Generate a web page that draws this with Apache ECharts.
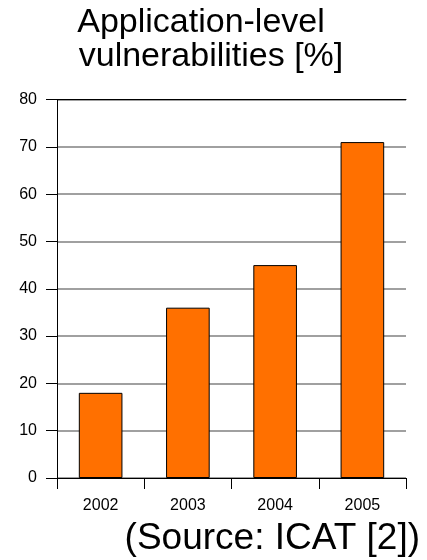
<!DOCTYPE html>
<html>
<head>
<meta charset="utf-8">
<script src="https://cdn.jsdelivr.net/npm/echarts@6/dist/echarts.min.js"></script>
<style>
  html, body { margin: 0; padding: 0; background: #fff; }
  #chart { width: 427px; height: 560px; }
</style>
</head>
<body>
<div id="chart"></div>
<script>
// data
const years = ['2002', '2003', '2004', '2005']
const appVulns = [18, 36, 45, 71]
const titleLines = ['Application-level', 'vulnerabilities [%]']
const sourceNote = '(Source: ICAT [2])'

const font = '"Liberation Sans", Arial, sans-serif'

const chart = echarts.init(document.getElementById('chart'))

chart.setOption({
  animation: false,
  backgroundColor: '#fff',
  grid: {
    left: 57,
    right: 21,
    top: 99.5,
    bottom: 82
  },
  graphic: [
    {
      type: 'text', x: 201, y: 22.5,
      style: { text: titleLines[0], font: '34px ' + font, fill: '#000', align: 'center', verticalAlign: 'middle' }
    },
    {
      type: 'text', x: 211, y: 56.5,
      style: { text: titleLines[1], font: '34px ' + font, fill: '#000', align: 'center', verticalAlign: 'middle' }
    },
    {
      type: 'text', x: 420, y: 539,
      style: { text: sourceNote, font: '37px ' + font, fill: '#000', align: 'right', verticalAlign: 'middle' }
    }
  ],
  xAxis: [
    {
      type: 'category',
      data: years,
      axisLine: { lineStyle: { color: '#000', width: 1 } },
      axisTick: { show: true, length: 11, alignWithLabel: false, lineStyle: { color: '#000' } },
      axisLabel: { color: '#000', fontSize: 16, fontFamily: font, margin: 20 }
    },
    {
      // black line along the top of the plot
      type: 'category',
      data: years,
      position: 'top',
      axisLine: { lineStyle: { color: '#000', width: 1 } },
      axisTick: { show: false },
      axisLabel: { show: false }
    }
  ],
  yAxis: {
    type: 'value',
    min: 0,
    max: 80,
    interval: 10,
    axisLine: { show: true, lineStyle: { color: '#000', width: 1 } },
    axisTick: { show: true, length: 11, lineStyle: { color: '#000' } },
    axisLabel: { color: '#000', fontSize: 16, fontFamily: font, margin: 20 },
    splitLine: { show: true, lineStyle: { color: '#808080', width: 1.5 } }
  },
  series: [
    {
      name: 'Application-level vulnerabilities',
      type: 'bar',
      data: appVulns,
      barWidth: '50%',
      itemStyle: {
        color: '#ff7000',
        borderColor: '#000',
        borderWidth: 1
      }
    }
  ]
})
</script>
</body>
</html>
